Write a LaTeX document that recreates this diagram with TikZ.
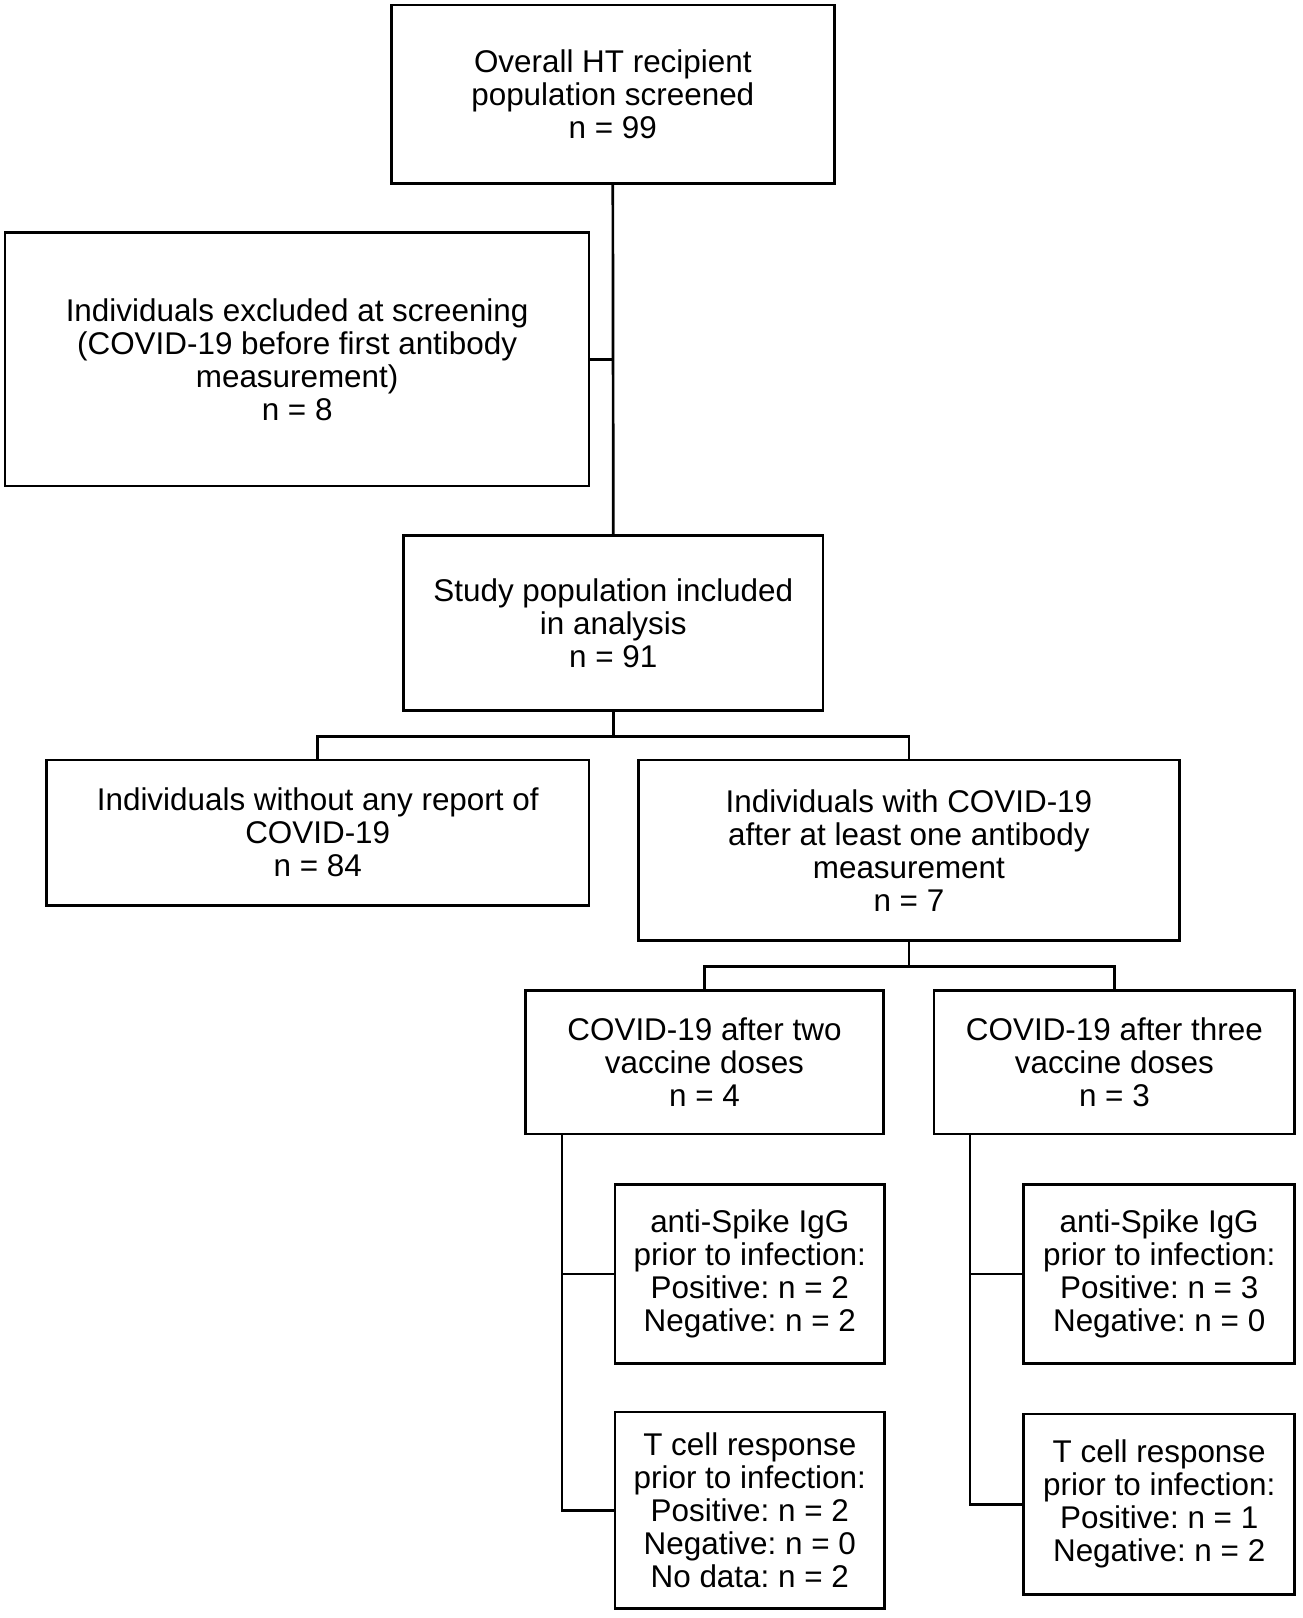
\documentclass[tikz,border=0pt]{standalone}
\usepackage{fontspec}
\setmainfont{Liberation Sans}
\frenchspacing
\begin{document}
\begin{tikzpicture}[x=1pt,y=-1pt,
  box/.style={draw,line width=2.6pt,inner sep=0pt,align=center,
    font=\fontsize{30.5}{32}\selectfont},
  conn/.style={line width=2.6pt}]
\useasboundingbox (0,0) rectangle (1265,1571);
\node[box,minimum width=430pt,minimum height=173pt] (top) at (595,91.5)
  {Overall HT recipient\\population screened\\n = 99};
\node[box,minimum width=567pt,minimum height=246pt] (excl) at (288.5,349)
  {Individuals excluded at screening\\(COVID-19 before first antibody\\measurement)\\n = 8};
\node[box,minimum width=407pt,minimum height=170pt] (study) at (595.5,605)
  {Study population included\\in analysis\\n = 91};
\node[box,minimum width=527pt,minimum height=141pt] (without) at (308.5,808.5)
  {Individuals without any report of\\COVID-19\\n = 84};
\node[box,minimum width=525pt,minimum height=175pt] (with) at (882.5,825.5)
  {Individuals with COVID-19\\after at least one antibody\\measurement\\n = 7};
\node[box,minimum width=348pt,minimum height=139pt] (two) at (684,1031.5)
  {COVID-19 after two\\vaccine doses\\n = 4};
\node[box,minimum width=350pt,minimum height=139pt] (three) at (1082,1031.5)
  {COVID-19 after three\\vaccine doses\\n = 3};
\node[box,minimum width=262pt,minimum height=174pt] (al) at (728,1237)
  {anti-Spike IgG\\prior to infection:\\Positive: n = 2\\Negative: n = 2};
\node[box,minimum width=262pt,minimum height=191pt] (tl) at (728,1466.5)
  {T cell response\\prior to infection:\\Positive: n = 2\\Negative: n = 0\\No data: n = 2};
\node[box,minimum width=263pt,minimum height=174pt] (ar) at (1125.5,1237)
  {anti-Spike IgG\\prior to infection:\\Positive: n = 3\\Negative: n = 0};
\node[box,minimum width=263pt,minimum height=175pt] (tr) at (1125.5,1460.5)
  {T cell response\\prior to infection:\\Positive: n = 1\\Negative: n = 2};
% connectors
\draw[conn] (top.south) -- (study.north);
\draw[conn] (excl.east) -- (excl.east -| top.south);
\coordinate (s1) at ([yshift=-24pt]study.south);
\draw[conn] (study.south) -- (s1);
\draw[conn] (without.north) |- (s1) -| (with.north);
\coordinate (w1) at ([yshift=-24pt]with.south);
\draw[conn] (with.south) -- (w1);
\draw[conn] (two.north) |- (w1) -| (three.north);
\coordinate (l0) at ([xshift=37pt]two.south west);
\draw[conn] (l0) |- (tl.west);
\draw[conn] (l0 |- al.west) -- (al.west);
\coordinate (r0) at ([xshift=36pt]three.south west);
\draw[conn] (r0) |- (tr.west);
\draw[conn] (r0 |- ar.west) -- (ar.west);
\end{tikzpicture}
\end{document}
